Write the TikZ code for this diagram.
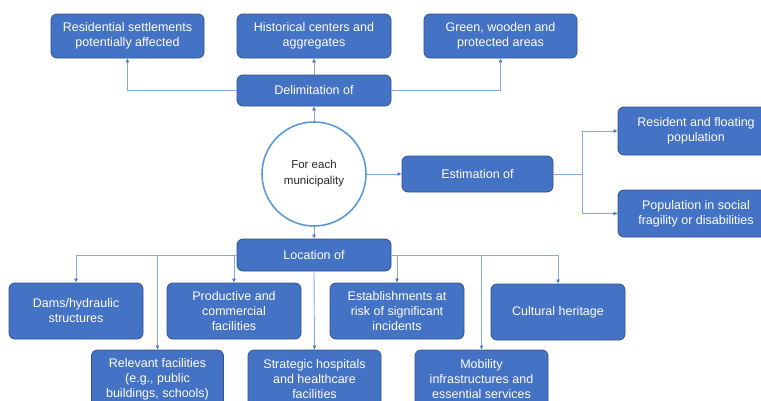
\documentclass[tikz,border=0pt]{standalone}
\usepackage{fontspec}
\setmainfont{Liberation Sans}
\usetikzlibrary{arrows.meta}
\definecolor{boxfill}{RGB}{68,114,196}
\definecolor{boxline}{RGB}{47,82,143}
\definecolor{linkcol}{RGB}{135,168,222}
\definecolor{ringcol}{RGB}{91,155,213}

\begin{document}
\begin{tikzpicture}[x=1pt, y=-1pt, >={Latex[length=4pt,width=4pt,color=boxfill]},
    box/.style={draw=boxline, fill=boxfill, rounded corners=6pt, line width=0.8pt, text=white,
      align=center, inner sep=0pt, font=\fontsize{12.5}{15}\selectfont},
    link/.style={draw=linkcol, line width=0.9pt, ->}]
      \clip (0,0) rectangle (761,400);
      \useasboundingbox (0,0) rectangle (761,400);
      \node[box, minimum width=153, minimum height=44] (resset) at (127.5,36) {Residential settlements\\potentially affected};
      \node[box, minimum width=154, minimum height=44] (histc) at (314,36) {Historical centers and\\aggregates};
      \node[box, minimum width=153, minimum height=44] (green) at (500.5,36) {Green, wooden and\\protected areas};
      \node[box, minimum width=154, minimum height=31] (delim) at (314,90.5) {Delimitation of};
      \node[circle, draw=ringcol, line width=1.6pt, minimum size=104, inner sep=0pt, align=center,
        text=black!85, font=\fontsize{11.5}{16}\selectfont] (muni) at (314,174) {For each\\municipality};
      \node[box, minimum width=151, minimum height=36] (estim) at (477.5,174) {Estimation of};
      \node[box, minimum width=156, minimum height=48] (resfl) at (696,131) {Resident and floating\\population};
      \node[box, minimum width=156, minimum height=47] (popfr) at (696,213.5) {Population in social\\fragility or disabilities};
      \node[box, minimum width=154, minimum height=32] (locat) at (314,255) {Location of};
      \node[box, minimum width=134, minimum height=56] (dams) at (76,311) {Dams/hydraulic\\structures};
      \node[box, minimum width=134, minimum height=56] (prodc) at (234,311) {Productive and\\commercial\\facilities};
      \node[box, minimum width=134, minimum height=56] (estab) at (397,311) {Establishments at\\risk of significant\\incidents};
      \node[box, minimum width=134, minimum height=56] (cultr) at (558,312) {Cultural heritage};
      \node[box, minimum width=132, minimum height=58] (relev) at (157.5,379) {Relevant facilities\\(e.g., public\\buildings, schools)};
      \node[box, minimum width=133, minimum height=58] (strat) at (314.5,379) {Strategic hospitals\\and healthcare\\facilities};
      \node[box, minimum width=133, minimum height=58] (mobil) at (481.5,379) {Mobility\\infrastructures and\\essential services};
      \coordinate (fork) at ([xshift=29pt]estim.east);
      \draw[link] (delim.west) -| (resset.south);
      \draw[link] (delim.north) -- (histc.south);
      \draw[link] (delim.east) -| (green.south);
      \draw[link] (muni.north) -- (delim.south);
      \draw[link] (muni.east) -- (estim.west);
      \draw[link] (estim.east) -- (fork) |- (resfl.west);
      \draw[link] (fork) |- (popfr.west);
      \draw[link] (muni.south) -- (locat.north);
      \draw[link] (locat.west) -| (dams.north);
      \draw[link] (locat.west -| relev.north) -- (relev.north);
      \draw[link] (locat.west -| prodc.north) -- (prodc.north);
      \draw[link] (locat.south) -- (strat.north);
      \draw[link] (locat.east) -| (estab.north);
      \draw[link] (locat.east -| mobil.north) -- (mobil.north);
      \draw[link] (locat.east) -| (cultr.north);
\end{tikzpicture}
\end{document}
